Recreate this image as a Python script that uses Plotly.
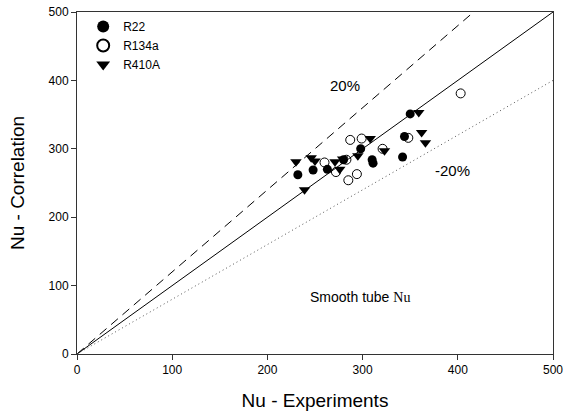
import plotly.graph_objects as go

# Data
r22_x = [232, 248, 263, 280, 298, 310, 311, 342, 344, 350]
r22_y = [262, 269, 270, 284, 300, 284, 279, 288, 318, 351]

r134a_x = [260, 272, 283, 285, 287, 294, 299, 321, 348, 403]
r134a_y = [280, 266, 284, 254, 313, 263, 315, 300, 316, 381]

r410a_x = [230, 239, 246, 250, 271, 276, 279, 295, 308, 323, 359, 362, 366]
r410a_y = [281, 240, 287, 282, 281, 270, 285, 290, 315, 297, 353, 324, 309]

line_x = [0, 500]
ratio_equal = 1.0
ratio_plus = 1.2
ratio_minus = 0.8

tick_vals = [0, 100, 200, 300, 400, 500]

fig = go.Figure()

fig.add_trace(go.Scatter(x=line_x, y=[v * ratio_equal for v in line_x], mode="lines",
                         line=dict(color="black", width=1), showlegend=False, hoverinfo="skip"))
fig.add_trace(go.Scatter(x=line_x, y=[v * ratio_plus for v in line_x], mode="lines",
                         line=dict(color="black", width=1, dash="9px,6px"), showlegend=False, hoverinfo="skip"))
fig.add_trace(go.Scatter(x=line_x, y=[v * ratio_minus for v in line_x], mode="lines",
                         line=dict(color="#555555", width=1, dash="1px,3px"), showlegend=False, hoverinfo="skip"))

fig.add_trace(go.Scatter(x=r22_x, y=r22_y, mode="markers", name="R22",
                         marker=dict(symbol="circle", size=9, color="black")))
fig.add_trace(go.Scatter(x=r134a_x, y=r134a_y, mode="markers", name="R134a",
                         marker=dict(symbol="circle-open", size=9, color="black", line=dict(width=1))))
fig.add_trace(go.Scatter(x=r410a_x, y=r410a_y, mode="markers", name="R410A",
                         marker=dict(symbol="triangle-down", size=10, color="black")))

axis_common = dict(range=[0, 500], tickvals=tick_vals, showgrid=False, zeroline=False,
                   showline=True, linecolor="#333333", linewidth=1, mirror=True,
                   ticks="outside", ticklen=5, tickcolor="#333333", automargin=False,
                   tickfont=dict(family="Liberation Sans, Arial", size=12, color="black"))

fig.update_xaxes(**axis_common, title=dict(text="Nu - Experiments", standoff=17,
                 font=dict(family="Liberation Sans, Arial", size=19, color="black")))
fig.update_yaxes(**axis_common, title=dict(text="Nu - Correlation", standoff=18,
                 font=dict(family="Liberation Sans, Arial", size=19, color="black")))

fig.add_annotation(x=281, y=392, text="20%", showarrow=False,
                   font=dict(family="Liberation Sans, Arial", size=15, color="black"))
fig.add_annotation(x=394, y=269, text="-20%", showarrow=False,
                   font=dict(family="Liberation Sans, Arial", size=15, color="black"))
fig.add_annotation(x=297, y=83, showarrow=False,
                   text='Smooth tube <span style="font-family:Liberation Serif, Times New Roman">Nu</span>',
                   font=dict(family="Liberation Sans, Arial", size=14, color="black"))

fig.update_layout(
    width=565, height=416,
    margin=dict(l=77, r=12, t=12, b=62, autoexpand=False),
    plot_bgcolor="white", paper_bgcolor="white",
    legend=dict(x=0.013, y=1.0, xanchor="left", yanchor="top", bgcolor="rgba(0,0,0,0)",
                font=dict(family="Liberation Sans, Arial", size=12, color="black"),
                tracegroupgap=0, itemsizing="constant", itemwidth=30),
)

fig.write_html("out.html")
